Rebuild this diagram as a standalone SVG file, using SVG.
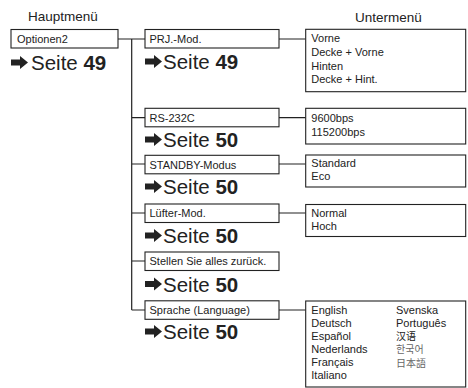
<svg xmlns="http://www.w3.org/2000/svg" width="468" height="388" viewBox="0 0 468 388">
<style>
.bx{fill:#fff;stroke:#222;stroke-width:1.1}
.ln{fill:none;stroke:#222;stroke-width:1.2}
.t{font-family:"Liberation Sans",Arial,sans-serif;font-size:11px;fill:#222}
.h{font-family:"Liberation Sans",Arial,sans-serif;font-size:13.5px;fill:#222}
.s{font-family:"Liberation Sans",Arial,sans-serif;font-size:20.5px;fill:#222}
.s tspan{font-weight:bold}
.cj{font-family:"Noto Sans CJK SC","Noto Sans CJK KR","Noto Sans CJK JP",sans-serif;font-size:10px;fill:#222}
.lt{fill:#666}
</style>
<defs>
<path id="arr" d="M0,-3 H9 V-6.5 L17,0 L9,6.5 V3 H0 Z" fill="#222"/>
</defs>
<text class="h" x="28" y="20.5">Hauptmenü</text>
<text class="h" x="355" y="22">Untermenü</text>
<g id="connectors">
<path class="ln" d="M118,39 H145 M131.7,39 V310 M131.7,117.7 H145 M131.7,164 H145 M131.7,213 H145 M131.7,261 H145 M131.7,310 H145"/>
<path class="ln" d="M279,39 H305.7 M279,117.7 H305.7 M279,164 H305.7 M279,213 H305.7 M279,310 H305.7"/>
</g>
<g id="optionen2">
<rect class="bx" x="11" y="29.5" width="107" height="18.5"/>
<text class="t" x="17" y="42.7">Optionen2</text>
<use href="#arr" x="11" y="62.5"/>
<text class="s" x="31" y="70">Seite <tspan>49</tspan></text>
</g>
<g id="prj">
<rect class="bx" x="145" y="29.5" width="134" height="18.5"/>
<text class="t" x="149.5" y="42.7">PRJ.-Mod.</text>
<use href="#arr" x="145" y="61.5"/>
<text class="s" x="163" y="69">Seite <tspan>49</tspan></text>
</g>
<g id="rs232c">
<rect class="bx" x="145" y="108.3" width="134" height="18.5"/>
<text class="t" x="149.5" y="121.5">RS-232C</text>
<use href="#arr" x="145" y="139.5"/>
<text class="s" x="163" y="147">Seite <tspan>50</tspan></text>
</g>
<g id="standby">
<rect class="bx" x="145" y="155.3" width="134" height="18.5"/>
<text class="t" x="149.5" y="168.5">STANDBY-Modus</text>
<use href="#arr" x="145" y="186.5"/>
<text class="s" x="163" y="194">Seite <tspan>50</tspan></text>
</g>
<g id="luefter">
<rect class="bx" x="145" y="204" width="134" height="18.5"/>
<text class="t" x="149.5" y="217.2">Lüfter-Mod.</text>
<use href="#arr" x="145" y="235.5"/>
<text class="s" x="163" y="243">Seite <tspan>50</tspan></text>
</g>
<g id="stellen">
<rect class="bx" x="145" y="252" width="134" height="18.5"/>
<text class="t" x="149.5" y="265.2">Stellen Sie alles zurück.</text>
<use href="#arr" x="145" y="284"/>
<text class="s" x="163" y="291.5">Seite <tspan>50</tspan></text>
</g>
<g id="sprache">
<rect class="bx" x="145" y="300.8" width="134" height="18.5"/>
<text class="t" x="149.5" y="314">Sprache (Language)</text>
<use href="#arr" x="145" y="331.5"/>
<text class="s" x="163" y="339">Seite <tspan>50</tspan></text>
</g>
<g id="sub-prj">
<rect class="bx" x="305.7" y="29.3" width="160" height="62.4"/>
<text class="t" x="311.3" y="42">Vorne</text>
<text class="t" x="311.3" y="56">Decke + Vorne</text>
<text class="t" x="311.3" y="69.5">Hinten</text>
<text class="t" x="311.3" y="83">Decke + Hint.</text>
</g>
<g id="sub-rs">
<rect class="bx" x="305.7" y="108.3" width="160" height="35.7"/>
<text class="t" x="311.3" y="122">9600bps</text>
<text class="t" x="311.3" y="135.5">115200bps</text>
</g>
<g id="sub-standby">
<rect class="bx" x="305.7" y="155" width="160" height="32"/>
<text class="t" x="311.3" y="166.5">Standard</text>
<text class="t" x="311.3" y="180">Eco</text>
</g>
<g id="sub-luefter">
<rect class="bx" x="305.7" y="204.5" width="160" height="32"/>
<text class="t" x="311.3" y="216.5">Normal</text>
<text class="t" x="311.3" y="230">Hoch</text>
</g>
<g id="sub-sprache">
<rect class="bx" x="305.7" y="301" width="160" height="86"/>
<text class="t" x="311.3" y="314">English</text>
<text class="t" x="311.3" y="327">Deutsch</text>
<text class="t" x="311.3" y="340">Español</text>
<text class="t" x="311.3" y="353">Nederlands</text>
<text class="t" x="311.3" y="366">Français</text>
<text class="t" x="311.3" y="379">Italiano</text>
<text class="t" x="396" y="314">Svenska</text>
<text class="t" x="396" y="327">Português</text>
<text class="cj" x="396" y="339.5">汉语</text>
<text class="cj lt" x="396" y="353">한국어</text>
<text class="cj lt" x="396" y="366.5">日本語</text>
</g>
</svg>
